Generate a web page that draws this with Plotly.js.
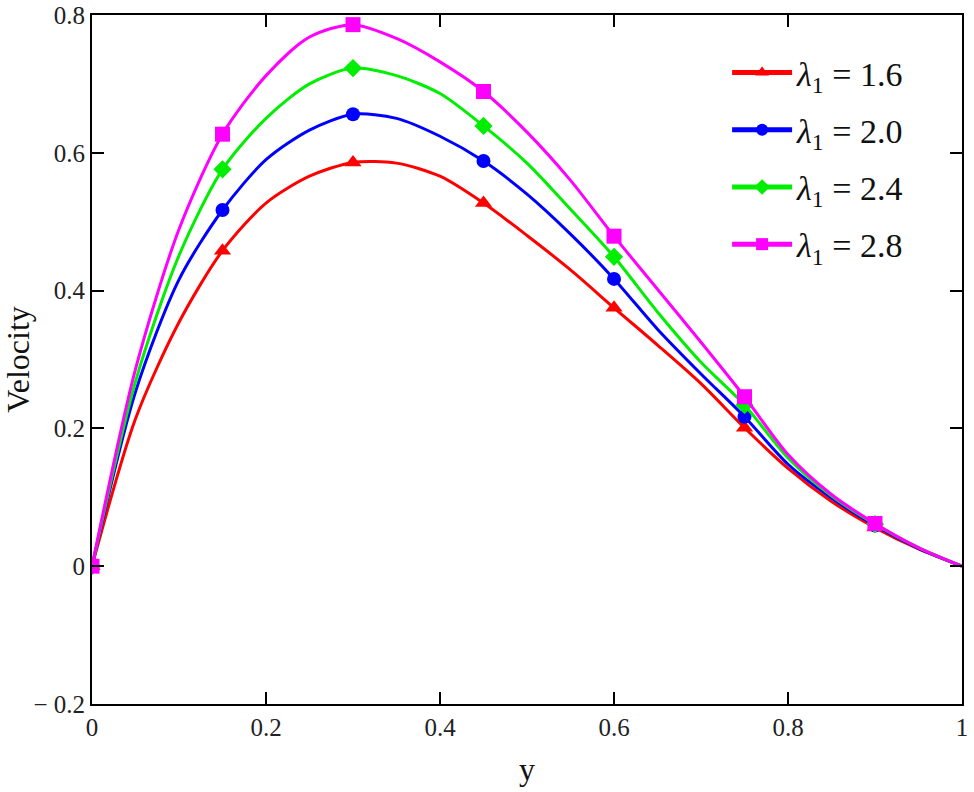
<!DOCTYPE html>
<html>
<head>
<meta charset="utf-8">
<script src="https://cdn.plot.ly/plotly-3.0.1.min.js"></script>
<style>html,body{margin:0;padding:0;background:#fff;}#chart{width:974px;height:792px;}</style>
</head>
<body>
<div id="chart"></div>
<script>
const yPos = [0,0.05,0.1,0.15,0.2,0.25,0.3,0.35,0.4,0.45,0.5,0.55,0.6,0.65,0.7,0.75,0.8,0.85,0.9,0.95,1.0];
const vel16 = [0,0.214,0.354,0.458,0.527,0.566,0.586,0.585,0.566,0.527,0.480,0.430,0.375,0.321,0.265,0.201,0.142,0.094,0.056,0.025,0];
const vel20 = [0,0.253,0.416,0.517,0.590,0.633,0.656,0.650,0.624,0.588,0.540,0.482,0.417,0.344,0.279,0.217,0.148,0.099,0.059,0.026,0];
const vel24 = [0,0.268,0.451,0.576,0.650,0.700,0.723,0.712,0.686,0.639,0.585,0.518,0.449,0.369,0.296,0.234,0.157,0.102,0.061,0.027,0];
const vel28 = [0,0.286,0.489,0.627,0.712,0.768,0.786,0.766,0.732,0.689,0.630,0.560,0.479,0.402,0.325,0.246,0.162,0.104,0.062,0.027,0];
const lambdas = ['1.6','2.0','2.4','2.8'];
const xTicks = [0,0.2,0.4,0.6,0.8,1];
const xTickText = ['0','0.2','0.4','0.6','0.8','1'];
const yTicks = [-0.2,0,0.2,0.4,0.6,0.8];
const yTickText = ['\u2212 0.2','0','0.2','0.4','0.6','0.8'];

const series = [vel16, vel20, vel24, vel28];
const colors = ['#ff0000','#0000ff','#00ee00','#ff00ff'];
const symbols = ['triangle-up','circle','diamond','square'];
const msz = [15,14,14,15];
const serif = 'Liberation Serif, Times New Roman, serif';

const traces = series.map((v,i)=>({
  x: yPos, y: v, type:'scatter', mode:'lines+markers',
  name: '<i>λ</i><sub>1</sub> = ' + lambdas[i],
  legendgroup: 'g'+i,
  line:{color:colors[i], width:3, shape:'spline', smoothing:0.8},
  marker:{color:colors[i], opacity:1, symbol:symbols[i], line:{width:0},
          size: yPos.map((_,k)=> k%3===0 ? msz[i] : 0)}
}));

const axisCommon = {
  showgrid:false, zeroline:false, showline:true, linecolor:'#000', linewidth:2,
  mirror:'ticks', ticks:'inside', ticklen:12, tickwidth:2, tickcolor:'#000',
  ticklabeloverflow:'allow',
  tickfont:{family:serif, size:25, color:'#222'}
};

const layout = {
  width:974, height:792,
  margin:{l:92, r:12, t:15, b:88},
  paper_bgcolor:'#fff', plot_bgcolor:'#fff',
  showlegend:true,
  legend:{x:0.73, y:0.958, xanchor:'left', yanchor:'top', bgcolor:'rgba(0,0,0,0)',
    font:{family:serif, size:34, color:'#111'},
    traceorder:'grouped', tracegroupgap:10,
    itemsizing:'constant', itemwidth:60},
  xaxis: Object.assign({}, axisCommon, {range:[0,1], tickvals:xTicks, ticktext:xTickText,
    title:{text:'y', font:{family:serif, size:32, color:'#111'}, standoff:18}}),
  yaxis: Object.assign({}, axisCommon, {range:[-0.2,0.8], tickvals:yTicks, ticktext:yTickText,
    title:{text:'Velocity', font:{family:serif, size:32, color:'#111'}, standoff:4}})
};

Plotly.newPlot('chart', traces, layout, {displayModeBar:false, staticPlot:true});
</script>
</body>
</html>
